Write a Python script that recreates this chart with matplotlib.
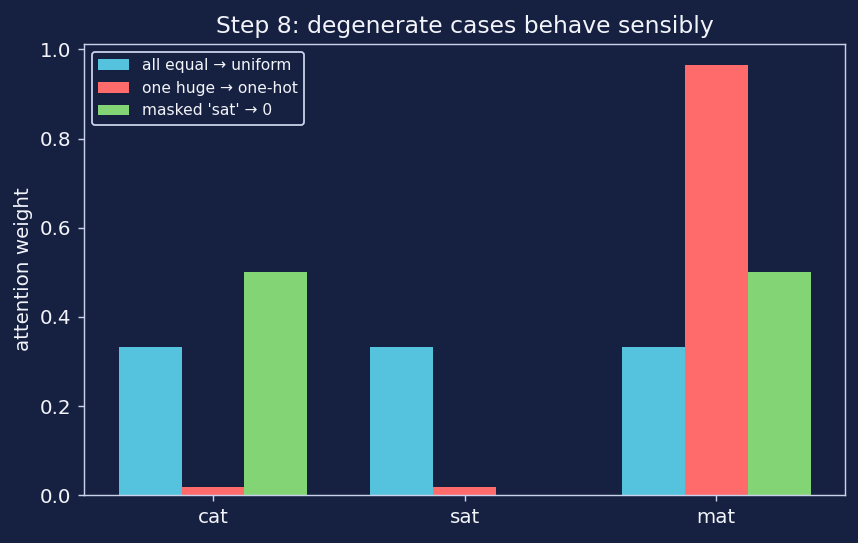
import matplotlib
matplotlib.use("Agg")
import matplotlib.pyplot as plt
import numpy as np

tokens = ["cat", "sat", "mat"]
uniform = [1/3, 1/3, 1/3]
one_hot = [0.018, 0.018, 0.964]
masked = [0.5, 0.0, 0.5]
labels = ["all equal \u2192 uniform", "one huge \u2192 one-hot", "masked 'sat' \u2192 0"]
colors = ["#56c3de", "#ff6b6b", "#83d475"]

bg = "#162040"
fg = "#f2f4fa"
spine = "#c8d2ea"

dpi = 130
fig = plt.figure(figsize=(858 / dpi, 543 / dpi), dpi=dpi, facecolor=bg)
ax = fig.add_axes([0.098, 0.088, 0.887, 0.831])
ax.set_facecolor(bg)

x = np.arange(len(tokens))
w = 0.25
for i, (vals, lab, c) in enumerate(zip([uniform, one_hot, masked], labels, colors)):
    ax.bar(x + (i - 1) * w, vals, w, label=lab, color=c)

ax.set_xticks(x)
ax.set_xticklabels(tokens)
ax.set_ylabel("attention weight", color=fg, fontsize=11)
ax.set_title("Step 8: degenerate cases behave sensibly", color=fg, fontsize=13)
ax.tick_params(colors=spine, labelcolor=fg, labelsize=11)
for s in ax.spines.values():
    s.set_color(spine)
leg = ax.legend(loc="upper left", fontsize=8.6, facecolor=bg, edgecolor=spine, labelcolor=fg, framealpha=1)

fig.savefig("out.png", dpi=dpi, facecolor=bg)
